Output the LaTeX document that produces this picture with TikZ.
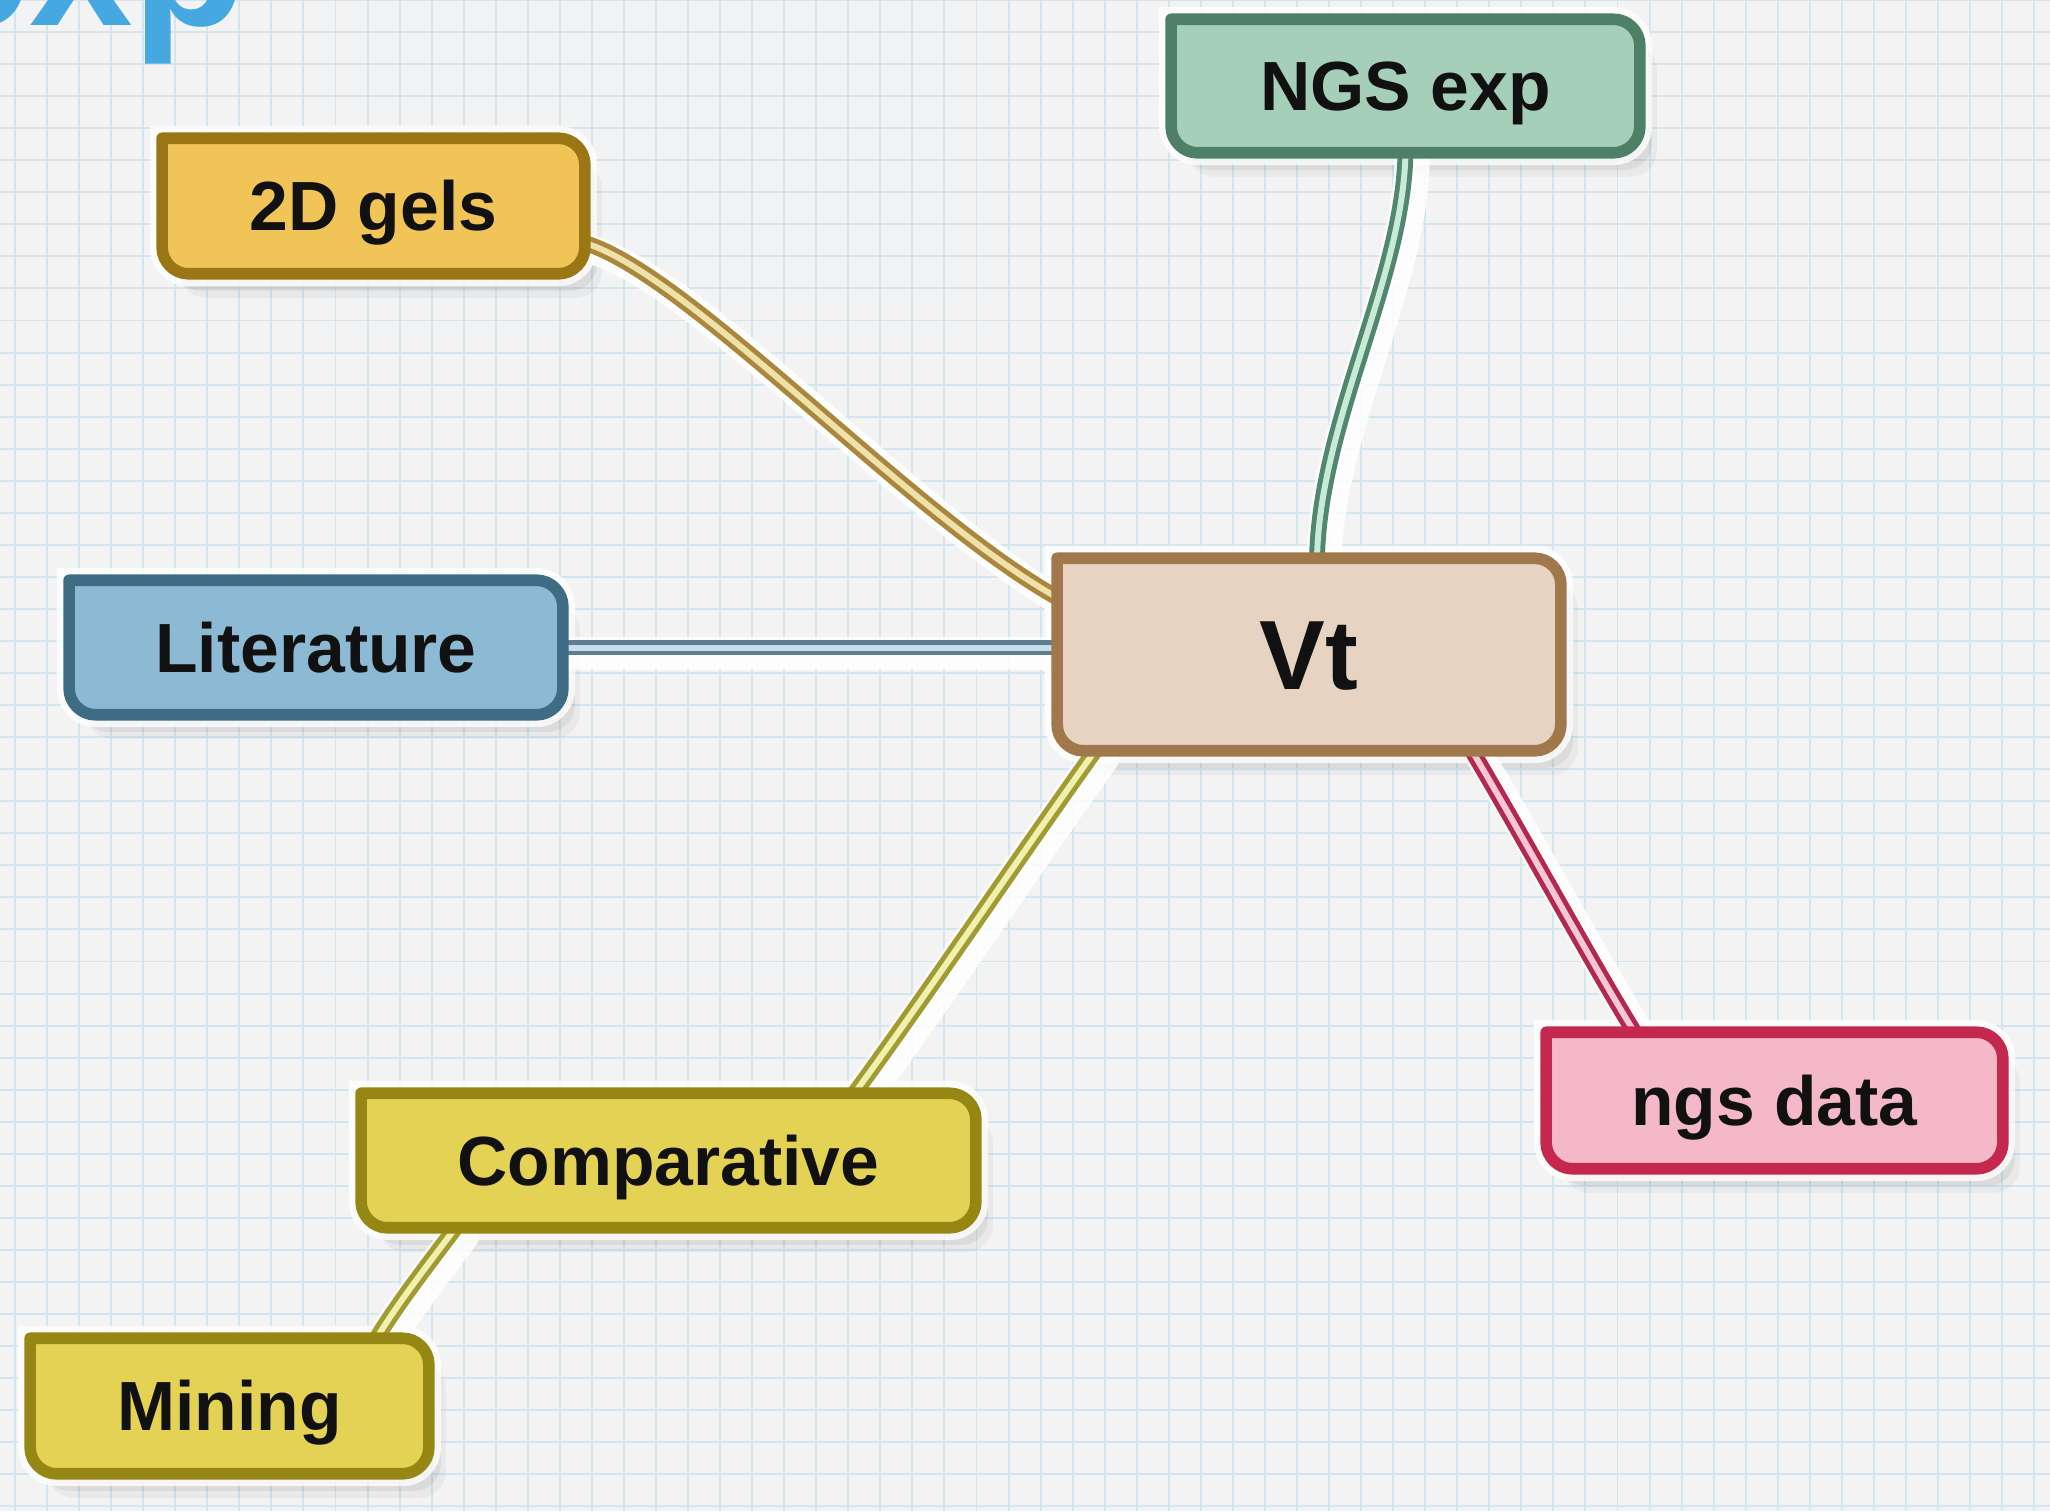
\documentclass[tikz,border=0pt]{standalone}
\usepackage{fontspec}
\setmainfont{Liberation Sans}
\usetikzlibrary{calc}
\pgfdeclarelayer{grid}
\pgfdeclarelayer{shadow}
\pgfdeclarelayer{edges}
\pgfdeclarelayer{boxes}
\pgfsetlayers{grid,shadow,edges,boxes,main}

\definecolor{bgc}{HTML}{F3F3F3}
\definecolor{gridc}{HTML}{D3E6EF}
\definecolor{txt}{HTML}{111111}
\definecolor{expc}{HTML}{45A8E0}
% boxes
\definecolor{gelsF}{HTML}{F1C458}\definecolor{gelsD}{HTML}{9B7614}
\definecolor{ngsF}{HTML}{A6CFBA}\definecolor{ngsD}{HTML}{4E8068}
\definecolor{litF}{HTML}{8CBAD4}\definecolor{litD}{HTML}{3E6C85}
\definecolor{vtF}{HTML}{E6D3C2}\definecolor{vtD}{HTML}{A0784B}
\definecolor{ndF}{HTML}{F4B8C8}\definecolor{ndD}{HTML}{C4284E}
\definecolor{cmF}{HTML}{E4D255}\definecolor{cmD}{HTML}{968714}
% connectors
\definecolor{gelsL}{HTML}{AA873C}\definecolor{gelsI}{HTML}{EFE1AA}
\definecolor{ngsL}{HTML}{50876E}\definecolor{ngsI}{HTML}{C8EBD7}
\definecolor{litL}{HTML}{5F7D91}\definecolor{litI}{HTML}{C8DCEB}
\definecolor{cmL}{HTML}{A09B32}\definecolor{cmI}{HTML}{F0F0AF}
\definecolor{ndL}{HTML}{B42850}\definecolor{ndI}{HTML}{F5C8D7}

% box outline: sharp top-left corner, the other three rounded
\newcommand\rbox[2]{%
  \path[#2] (#1.north west)
    -- ($(#1.north east)+(-26,0)$) .. controls ($(#1.north east)+(-12,0)$) and ($(#1.north east)+(0,12)$) .. ($(#1.north east)+(0,26)$)
    -- ($(#1.south east)+(0,-26)$) .. controls ($(#1.south east)+(0,-12)$) and ($(#1.south east)+(-12,0)$) .. ($(#1.south east)+(-26,0)$)
    -- ($(#1.south west)+(26,0)$) .. controls ($(#1.south west)+(12,0)$) and ($(#1.south west)+(0,-12)$) .. ($(#1.south west)+(0,-26)$)
    -- cycle;}
\newcommand\bshadow[1]{%
  \rbox{#1}{fill=black, opacity=0.06, transform canvas={xshift=0.06cm,yshift=-0.09cm}}
  \rbox{#1}{fill=black, opacity=0.06, transform canvas={xshift=0.12cm,yshift=-0.17cm}}
  \rbox{#1}{fill=black, opacity=0.04, transform canvas={xshift=0.17cm,yshift=-0.24cm}}
  \rbox{#1}{draw=white, line width=7pt, opacity=0.8}}
\newcommand\link[2]{%
  \begin{pgfonlayer}{shadow}
    \path[cshad] #2;
    \path[chalo] #2;
  \end{pgfonlayer}
  \begin{pgfonlayer}{edges}
    \path[#1] #2;
  \end{pgfonlayer}}

\begin{document}
\begin{tikzpicture}[x=0.01cm, y=-0.01cm,
  lbl/.style={font=\bfseries\fontsize{19.8}{22}\selectfont, text=txt, inner sep=0pt,
              text height=14.2pt, text depth=0pt},
  bigl/.style={font=\bfseries\fontsize{28}{30}\selectfont, text=txt, inner sep=0pt,
              text height=20pt, text depth=0pt},
  boxline/.style={line width=3.3pt, line join=round},
  ln/.style={line width=1.4pt, double distance=1.7pt, line cap=round},
  gelsC/.style={ln, draw=gelsL, double=gelsI},
  ngsC/.style={ln, draw=ngsL, double=ngsI},
  litC/.style={ln, draw=litL, double=litI},
  cmC/.style={ln, draw=cmL, double=cmI},
  ndC/.style={ln, draw=ndL, double=ndI},
  cshad/.style={draw=white, line width=8pt, opacity=0.85, line cap=round,
                transform canvas={xshift=0.1cm,yshift=-0.08cm}},
  chalo/.style={draw=white, line width=6pt, opacity=0.7, line cap=round}
]
\useasboundingbox (0,0) rectangle (2050,1511);

\begin{pgfonlayer}{grid}
  \fill[bgc] (0,0) rectangle (2050,1511);
  \foreach \i in {0,...,63} \draw[gridc, line width=0.55pt] (15+32.05*\i,0) -- (15+32.05*\i,1511);
  \foreach \j in {0,...,47} \draw[gridc, line width=0.55pt] (0,32.05*\j) -- (2050,32.05*\j);
\end{pgfonlayer}

% partial title at the top edge
\node[anchor=base west, inner sep=0pt, font=\bfseries\fontsize{53}{56}\selectfont, text=expc] (title) at (-75,25) {exp};

% nodes
\node[lbl, minimum width=4.21cm, minimum height=1.34cm] (gels) at (373.5,206) {2D gels};
\node[lbl, minimum width=4.67cm, minimum height=1.32cm] (ngs) at (1405.5,86) {NGS exp};
\node[lbl, minimum width=4.92cm, minimum height=1.33cm] (lit) at (316,647.5) {Literature};
\node[bigl, minimum width=5.02cm, minimum height=1.91cm] (vt) at (1309,654.5) {Vt};
\node[lbl, minimum width=4.55cm, minimum height=1.35cm] (nd) at (1774.5,1100.5) {ngs data};
\node[lbl, minimum width=6.13cm, minimum height=1.33cm] (comp) at (668.5,1160.5) {Comparative};
\node[lbl, minimum width=3.97cm, minimum height=1.34cm] (mining) at (229.5,1406) {Mining};

% box shadows and halos
\begin{pgfonlayer}{shadow}
  \bshadow{gels}\bshadow{ngs}\bshadow{lit}\bshadow{vt}\bshadow{nd}\bshadow{comp}\bshadow{mining}
\end{pgfonlayer}

% connectors
\link{gelsC}{($(gels.east)+(0,37)$) .. controls (690,275) and (910,515) .. ($(vt.west)+(0,-57)$)}
\link{litC}{(lit.east) -- (lit.east -| vt.west)}
\link{ngsC}{(ngs.south) .. controls (1403,280) and (1320,420) .. ($(vt.north)+(8,0)$)}
\link{cmC}{($(vt.south)+(-214,0)$) .. controls (1010,870) and (930,990) .. ($(comp.north)+(186,0)$)}
\link{ndC}{($(vt.south)+(163,0)$) .. controls (1525,840) and (1590,960) .. ($(nd.north)+(-140,0)$)}
\link{cmC}{($(comp.south)+(-213,0)$) .. controls (430,1262) and (400,1300) .. ($(mining.north)+(147,0)$)}

% boxes
\begin{pgfonlayer}{boxes}
  \rbox{gels}{fill=gelsF, draw=gelsD, boxline}
  \rbox{ngs}{fill=ngsF, draw=ngsD, boxline}
  \rbox{lit}{fill=litF, draw=litD, boxline}
  \rbox{vt}{fill=vtF, draw=vtD, boxline}
  \rbox{nd}{fill=ndF, draw=ndD, boxline}
  \rbox{comp}{fill=cmF, draw=cmD, boxline}
  \rbox{mining}{fill=cmF, draw=cmD, boxline}
\end{pgfonlayer}
\end{tikzpicture}
\end{document}
